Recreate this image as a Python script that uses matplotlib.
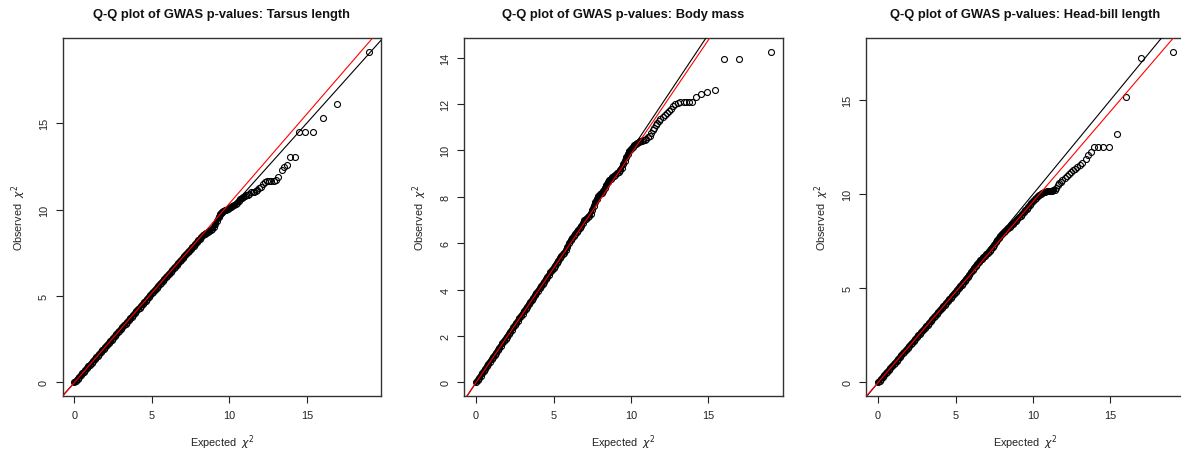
import matplotlib
matplotlib.use('Agg')
import matplotlib.pyplot as plt

plt.rcParams['font.family'] = ['Liberation Sans', 'DejaVu Sans']
plt.rcParams['mathtext.fontset'] = 'dejavusans'

# expected chi^2 quantiles (shared by the three traits, same SNP set)
expected = [
    0.0, 0.1, 0.2, 0.3, 0.4, 0.5, 0.6, 0.7, 0.8, 0.9,
    1.0, 1.1, 1.2, 1.3, 1.4, 1.5, 1.6, 1.7, 1.8, 1.9,
    2.0, 2.1, 2.2, 2.3, 2.4, 2.5, 2.6, 2.7, 2.8, 2.9,
    3.0, 3.1, 3.2, 3.3, 3.4, 3.5, 3.6, 3.7, 3.8, 3.9,
    4.0, 4.1, 4.2, 4.3, 4.4, 4.5, 4.6, 4.7, 4.8, 4.9,
    5.0, 5.1, 5.2, 5.3, 5.4, 5.5, 5.6, 5.7, 5.8, 5.9,
    6.0, 6.1, 6.2, 6.3, 6.4, 6.5, 6.6, 6.7, 6.8, 6.9,
    7.0, 7.1, 7.2, 7.3, 7.4, 7.5, 7.6, 7.7, 7.8, 7.9,
    8.0, 8.1, 8.2, 8.3, 8.4, 8.5, 8.6, 8.7, 8.8, 8.9,
    9.0, 9.1, 9.2, 9.3, 9.4, 9.5, 9.6, 9.7, 9.8, 9.9,
    10.0, 10.1, 10.2, 10.3, 10.4, 10.5, 10.6, 10.7, 10.8, 10.9,
    11.0, 11.1, 11.2, 11.3, 11.4, 11.5, 11.6, 11.7, 11.8, 11.9,
    12.05, 12.17, 12.30, 12.43, 12.57, 12.72, 12.87, 13.02, 13.16, 13.40,
    13.55, 13.75, 13.92, 14.22, 14.50, 14.91, 15.40, 16.03, 16.97, 19.03,
]

obs_tarsus = [
    0.00, 0.10, 0.21, 0.31, 0.41, 0.52, 0.62, 0.72, 0.83, 0.93,
    1.03, 1.14, 1.24, 1.34, 1.45, 1.55, 1.65, 1.75, 1.86, 1.96,
    2.06, 2.17, 2.27, 2.37, 2.48, 2.58, 2.68, 2.78, 2.89, 2.99,
    3.09, 3.19, 3.30, 3.40, 3.50, 3.60, 3.71, 3.81, 3.91, 4.02,
    4.12, 4.23, 4.33, 4.43, 4.54, 4.64, 4.74, 4.85, 4.95, 5.05,
    5.15, 5.26, 5.36, 5.47, 5.57, 5.68, 5.78, 5.88, 5.98, 6.08,
    6.18, 6.29, 6.39, 6.50, 6.60, 6.70, 6.80, 6.90, 7.00, 7.10,
    7.21, 7.32, 7.42, 7.52, 7.62, 7.72, 7.82, 7.92, 8.02, 8.12,
    8.22, 8.32, 8.42, 8.52, 8.60, 8.66, 8.71, 8.76, 8.82, 8.90,
    9.00, 9.15, 9.35, 9.55, 9.75, 9.85, 9.90, 9.95, 10.00, 10.05,
    10.10, 10.15, 10.20, 10.25, 10.30, 10.40, 10.50, 10.60, 10.66, 10.72,
    10.78, 10.82, 10.86, 10.92, 11.00, 11.03, 11.04, 11.06, 11.12, 11.25,
    11.33, 11.45, 11.57, 11.66, 11.68, 11.68, 11.68, 11.70, 11.86, 12.31,
    12.44, 12.60, 13.02, 13.02, 14.50, 14.50, 14.50, 15.29, 16.10, 19.14,
]

obs_mass = [
    0.00, 0.10, 0.20, 0.30, 0.40, 0.50, 0.60, 0.70, 0.80, 0.90,
    1.00, 1.10, 1.19, 1.29, 1.39, 1.49, 1.59, 1.69, 1.79, 1.89,
    1.98, 2.08, 2.18, 2.28, 2.37, 2.47, 2.57, 2.67, 2.77, 2.87,
    2.97, 3.07, 3.17, 3.27, 3.36, 3.45, 3.55, 3.65, 3.75, 3.85,
    3.95, 4.05, 4.14, 4.24, 4.34, 4.44, 4.54, 4.64, 4.74, 4.84,
    4.94, 5.04, 5.14, 5.25, 5.36, 5.45, 5.52, 5.60, 5.70, 5.84,
    6.00, 6.12, 6.22, 6.32, 6.41, 6.50, 6.58, 6.66, 6.75, 6.86,
    6.98, 7.06, 7.12, 7.18, 7.28, 7.45, 7.62, 7.78, 7.92, 8.02,
    8.10, 8.18, 8.26, 8.36, 8.50, 8.62, 8.72, 8.78, 8.84, 8.90,
    8.96, 9.02, 9.08, 9.16, 9.26, 9.40, 9.56, 9.70, 9.85, 9.97,
    10.06, 10.14, 10.22, 10.27, 10.32, 10.36, 10.40, 10.42, 10.44, 10.46,
    10.50, 10.56, 10.62, 10.75, 10.88, 10.98, 11.08, 11.18, 11.28, 11.36,
    11.46, 11.52, 11.62, 11.70, 11.80, 11.90, 12.02, 12.06, 12.08, 12.08,
    12.08, 12.08, 12.08, 12.31, 12.42, 12.52, 12.60, 13.95, 13.95, 14.26,
]

obs_headbill = [
    0.00, 0.10, 0.19, 0.29, 0.38, 0.48, 0.58, 0.67, 0.77, 0.86,
    0.96, 1.06, 1.15, 1.25, 1.34, 1.44, 1.54, 1.63, 1.73, 1.83,
    1.92, 2.02, 2.11, 2.21, 2.30, 2.40, 2.50, 2.59, 2.69, 2.78,
    2.88, 2.98, 3.07, 3.17, 3.26, 3.36, 3.46, 3.55, 3.65, 3.75,
    3.84, 3.94, 4.04, 4.13, 4.23, 4.32, 4.42, 4.51, 4.61, 4.71,
    4.80, 4.90, 5.00, 5.10, 5.20, 5.30, 5.40, 5.50, 5.61, 5.73,
    5.86, 5.98, 6.10, 6.21, 6.31, 6.40, 6.48, 6.56, 6.64, 6.72,
    6.81, 6.90, 7.00, 7.10, 7.21, 7.32, 7.44, 7.56, 7.68, 7.80,
    7.90, 7.98, 8.06, 8.14, 8.22, 8.28, 8.35, 8.43, 8.51, 8.60,
    8.68, 8.77, 8.86, 8.95, 9.04, 9.14, 9.24, 9.34, 9.44, 9.54,
    9.63, 9.72, 9.80, 9.88, 9.95, 10.00, 10.05, 10.10, 10.14, 10.16,
    10.17, 10.18, 10.19, 10.20, 10.24, 10.35, 10.48, 10.58, 10.66, 10.75,
    10.85, 10.95, 11.08, 11.18, 11.28, 11.36, 11.46, 11.56, 11.66, 11.86,
    12.08, 12.22, 12.49, 12.49, 12.49, 12.49, 13.21, 15.19, 17.22, 17.58,
]

titles = ['Tarsus length', 'Body mass', 'Head-bill length']
lambdas = [1.035, 0.984, 0.96]
yticks = [[0, 5, 10, 15], [0, 2, 4, 6, 8, 10, 12, 14], [0, 5, 10, 15]]
# where the overplotted points stop forming a solid band (expected chi^2)
solid_upto = [11.0, 10.6, 11.4]


def qqpanel(ax, obs, title, lam, ticks, solid):
    n = len([e for e in expected if e <= solid])
    # thousands of overlapping circles read as one thick black band
    ax.plot(expected[:n], obs[:n], '-', color='black', lw=3.8,
            solid_capstyle='round', zorder=2)
    ax.plot(expected, obs, 'o', mfc='none', mec='black', ms=4.3, mew=0.8,
            zorder=2)
    ax.axline((0, 0), slope=1, color='black', lw=0.8, zorder=3)
    ax.axline((0, 0), slope=lam, color='red', lw=0.8, zorder=3)

    # R style 4% padding around the data
    xr = max(expected) - min(expected)
    yr = max(obs) - min(obs)
    ax.set_xlim(min(expected) - 0.04 * xr, max(expected) + 0.04 * xr)
    ax.set_ylim(min(obs) - 0.04 * yr, max(obs) + 0.04 * yr)

    ax.set_xticks([0, 5, 10, 15])
    ax.set_yticks(ticks)
    ax.tick_params(direction='out', length=5, width=0.8, labelsize=7.8,
                   colors='#222222', pad=5)
    for lab in ax.get_yticklabels():
        lab.set_rotation(90)
        lab.set_va('center')
    for sp in ax.spines.values():
        sp.set_color('#333333')
        sp.set_linewidth(1.0)

    ax.set_title('Q-Q plot of GWAS p-values: ' + title, fontsize=9.3,
                 fontweight='bold', pad=15, color='#111111')
    ax.set_xlabel(r'Expected  $\chi^2$', fontsize=7.8, labelpad=9,
                  color='#222222')
    ax.set_ylabel(r'Observed  $\chi^2$', fontsize=7.8, labelpad=8,
                  color='#222222')


def main():
    fig = plt.figure(figsize=(11.81, 4.52), dpi=100)
    lefts = [62.7, 464.3, 866.3]
    series = [obs_tarsus, obs_mass, obs_headbill]
    for i in range(3):
        ax = fig.add_axes([lefts[i] / 1181, 1 - 396.7 / 452,
                           318.3 / 1181, 357.4 / 452])
        qqpanel(ax, series[i], titles[i], lambdas[i], yticks[i],
                solid_upto[i])
    fig.savefig('out.png', dpi=100)
    plt.close(fig)


if __name__ == '__main__':
    main()
